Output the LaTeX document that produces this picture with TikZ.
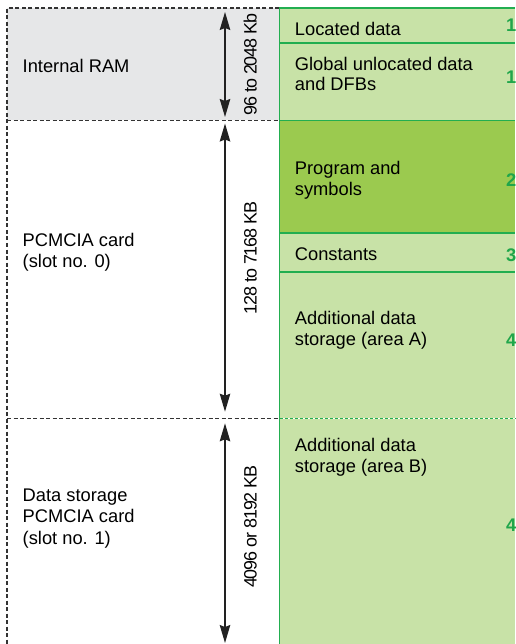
\documentclass[tikz,border=0pt]{standalone}
\usepackage{fontspec}
\setmainfont{Liberation Sans}
\newfontfamily\rotfont[LetterSpace=-6]{Liberation Sans}
\usetikzlibrary{arrows.meta}
\definecolor{ramgray}{HTML}{E6E7E8}
\definecolor{lightgreen}{HTML}{C8E2A7}
\definecolor{darkgreen}{HTML}{9BCA4F}
\definecolor{greenline}{HTML}{22AE50}
\definecolor{numgreen}{HTML}{1FA64A}
\definecolor{dashgray}{HTML}{333333}
\definecolor{arrowgray}{HTML}{222222}
\tikzset{
  lbl/.style={anchor=base west, inner sep=0pt, font=\fontsize{18.3}{21}\selectfont},
  num/.style={anchor=base east, inner sep=0pt, text=numgreen, font=\fontsize{18.3}{21}\selectfont\bfseries},
  rotlbl/.style={anchor=base, inner sep=0pt, rotate=90, font=\rotfont\fontsize{17.9}{20}\selectfont},
  gline/.style={draw=greenline, line width=1.8pt},
  dline/.style={draw=dashgray, line width=1.2pt, dash pattern=on 4pt off 2.5pt},
  sizearrow/.style={draw=arrowgray, line width=1.4pt, {Stealth[length=18pt,width=10.5pt,inset=2pt]}-{Stealth[length=18pt,width=10.5pt,inset=2pt]}}
}
\begin{document}
\begin{tikzpicture}[x=1pt,y=-1pt]
\useasboundingbox (0,0) rectangle (515,644);
% areas
\fill[ramgray] (7,8) rectangle (279.5,120.5);
\fill[lightgreen] (279.5,8) rectangle (515,644);
\fill[darkgreen] (279.5,120.5) rectangle (515,232.7);
% green separators
\draw[gline] (279.5,7.5) -- (279.5,644);
\foreach \yy in {8,43,120.5,232.7,272}{\draw[gline] (279.5,\yy) -- (515,\yy);}
\draw[draw=white, line width=1.6pt] (279.5,418.5) -- (515,418.5);
\draw[draw=greenline, line width=1.6pt, dash pattern=on 3.5pt off 1.5pt] (279.5,418.5) -- (515,418.5);
% dashed outline of the memory sources
\draw[dline] (279,8) -- (7,8) -- (7,644);
\draw[dline] (7,120.5) -- (279,120.5);
\draw[dline] (7,418.5) -- (279,418.5);
% size arrows
\coordinate (a1t) at (225,12);
\coordinate (a1b) at (225,117);
\coordinate (a2t) at (225,123.5);
\coordinate (a2b) at (225,411.7);
\coordinate (a3t) at (225,423.3);
\coordinate (a3b) at (225,643);
\draw[sizearrow] (a1t) -- (a1b);
\draw[sizearrow] (a2t) -- (a2b);
\draw[sizearrow] (a3t) -- (a3b);
\node[rotlbl] (s1) at (256.5,64.5) {96 to 2048 Kb};
\node[rotlbl] (s2) at (256.5,258) {128 to 7168 KB};
\node[rotlbl] (s3) at (256.5,526.7) {4096 or 8192 KB};
% left labels
\node[lbl] (ram) at (22.5,72.7) {Internal RAM};
\node[lbl] (pc0a) at (22.5,246.7) {PCMCIA card};
\node[lbl] (pc0b) at (22.5,267.3) {(slot no. 0)};
\node[lbl] (pc1a) at (22.5,501.7) {Data storage};
\node[lbl] (pc1b) at (22.5,522.7) {PCMCIA card};
\node[lbl] (pc1c) at (22.5,544.5) {(slot no. 1)};
% right labels
\node[lbl] (loc) at (294.7,35.7) {Located data};
\node[lbl] (glo1) at (294.7,70.7) {Global unlocated data};
\node[lbl] (glo2) at (294.7,91) {and DFBs};
\node[lbl] (prg1) at (294.7,175) {Program and};
\node[lbl] (prg2) at (294.7,196) {symbols};
\node[lbl] (cst) at (294.7,260) {Constants};
\node[lbl] (ada1) at (294.7,324) {Additional data};
\node[lbl] (ada2) at (294.7,345) {storage (area A)};
\node[lbl] (adb1) at (294.7,451.7) {Additional data};
\node[lbl] (adb2) at (294.7,472.7) {storage (area B)};
% area numbers
\node[num] (n1a) at (516.5,32) {1};
\node[num] (n1b) at (516.5,84) {1};
\node[num] (n2) at (516.5,186.7) {2};
\node[num] (n3) at (516.5,261) {3};
\node[num] (n4a) at (516.5,346) {4};
\node[num] (n4b) at (516.5,531.7) {4};
\end{tikzpicture}
\end{document}
